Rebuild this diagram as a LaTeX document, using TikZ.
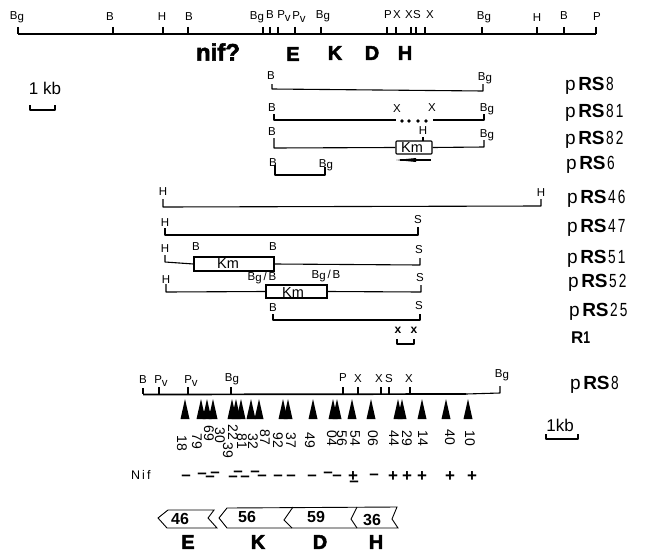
\documentclass[tikz,border=0pt]{standalone}
\usepackage{fontspec}
\setmainfont{Liberation Sans}
\newfontfamily\heavyf[BoldFeatures={FakeBold=2.5}]{Liberation Sans}
\newcommand{\lbfont}{\fontsize{11.5}{11.5}\selectfont}
\newcommand{\Pvlab}{P\raisebox{-2.5pt}{v}}
\newcommand{\Bglab}{B\raisebox{-1pt}{g}}
\newcommand{\nar}[1]{\scalebox{0.72}[1]{#1}}
\newcommand{\prs}[1]{p\hspace{2.5pt}{\bfseries RS}\hspace{1.5pt}\nar{#1}}
\tikzset{
  maplab/.style={inner sep=0pt,font=\lbfont},
  maplabel/.style={inner sep=0pt,anchor=west,font=\fontsize{19}{19}\selectfont},
  heavyl/.style={inner sep=0pt,font=\heavyf\bfseries\fontsize{20}{20}\selectfont},
  genline/.style={line width=1.1pt,line join=round},
  kmbox/.style={draw,line width=1.1pt,inner sep=0pt,rounded corners=0.8pt,minimum height=13pt},
  kmtext/.style={inner sep=0pt,font=\fontsize{14.5}{15}\selectfont},
  nums/.style={inner sep=0pt,rotate=-90,font=\fontsize{14}{14}\selectfont},
  nifm/.style={inner sep=0pt,font=\bfseries\fontsize{17}{17}\selectfont},
  nifp/.style={inner sep=0pt,font=\bfseries\fontsize{17}{17}\selectfont},
  orf/.style={line width=0.9pt,line join=miter},
  orfnum/.style={inner sep=0pt,font=\bfseries\fontsize{16}{16}\selectfont},
}
\begin{document}
\begin{tikzpicture}[x=1pt,y=-1pt]
\useasboundingbox (0,0) rectangle (660,551);
% top map
\draw[genline] (18,34) -- (596,34);
\foreach \x in {113,163,188,263,270,278,295,321,387,396,411,416,425,482,537,564}
  \draw[genline] (\x,27) -- (\x,34);
\draw[genline] (18,27) -- (18,34);
\draw[genline] (596,27) -- (596,34);
\node[maplab] (t1) at (17,17) {\Bglab};
\node[maplab] (t2) at (110,17) {B};
\node[maplab] (t3) at (162,17) {H};
\node[maplab] (t4) at (189,17) {B};
\node[maplab] (t5) at (257,17) {\Bglab};
\node[maplab] (t6) at (270,15) {B};
\node[maplab] (t7) at (284,16) {\Pvlab};
\node[maplab] (t8) at (299,17) {\Pvlab};
\node[maplab] (t9) at (323,16) {\Bglab};
\node[maplab] (t10) at (388,15) {P};
\node[maplab] (t11) at (397,15) {X};
\node[maplab] (t12) at (409,15) {X};
\node[maplab] (t13) at (417,15) {S};
\node[maplab] (t14) at (430,15) {X};
\node[maplab] (t15) at (484,17) {\Bglab};
\node[maplab] (t16) at (537,18) {H};
\node[maplab] (t17) at (564,16) {B};
\node[maplab] (t18) at (597,17) {P};
\node[heavyl,font=\heavyf\bfseries\fontsize{24}{24}\selectfont] (g0) at (218,52) {nif?};
\node[heavyl] (g1) at (293,54) {E};
\node[heavyl] (g2) at (335,53) {K};
\node[heavyl] (g3) at (372,53) {D};
\node[heavyl] (g4) at (405,53) {H};
% scale top
\node[inner sep=0pt,font=\fontsize{17}{17}\selectfont] (kb1) at (45,88) {1 kb};
\draw[genline] (30,105) -- (30,110) -- (55,110) -- (55,105);
% pRS8
\draw[genline] (272,84) -- (272,89) -- (483,91) -- (483,84);
\node[maplab] (a1) at (271,76) {B};
\node[maplab] (a2) at (485,78) {\Bglab};
\node[maplabel] (p1) at (565,86) {\prs{8}};
% pRS81
\draw[genline] (274,114) -- (274,120) -- (396,120);
\draw[genline] (433,120) -- (484,120) -- (484,114);
\foreach \x in {402,409,418,426} \fill (\x,121) circle (1.8);
\node[maplab] (b1) at (272,108) {B};
\node[maplab] (b2) at (397,109) {X};
\node[maplab] (b3) at (432,108) {X};
\node[maplab] (b4) at (487,109) {\Bglab};
\node[maplabel] (p2) at (565,113) {\prs{8\hspace{3pt}1}};
% pRS82
\node[kmbox,minimum width=36pt] (km1) at (414,147.5) {};
\node[kmtext] at (412,148) {Km};
\coordinate (c1) at (274,138);
\draw[genline] (c1) -- (274,148) -- (km1.west);
\draw[genline] (km1.east) -- (484,147) -- (484,140);
\draw[genline] (423,137) -- (423,141);
\node[maplab] (c2) at (272,132) {B};
\node[maplab] (c3) at (423,131) {H};
\node[maplab] (c4) at (487,135) {\Bglab};
\draw[genline] (431,160) -- (400,160);
\fill (396,160) -- (416,158) -- (416,162) -- cycle;
\node[maplabel] (p3) at (565,140) {\prs{8\hspace{3pt}2}};
% pRS6
\draw[genline] (275,165) -- (275,175) -- (325,175) -- (325,167);
\node[maplab] (d1) at (273,163) {B};
\node[maplab] (d2) at (326,165) {\Bglab};
\node[maplabel] (p4) at (566,165) {\prs{6}};
% pRS46
\draw[genline] (163,199) -- (163,207) -- (541,206) -- (541,199);
\node[maplab] (e1) at (163,192) {H};
\node[maplab] (e2) at (541,193) {H};
\node[maplabel] (p5) at (567,199) {\prs{4\hspace{3pt}6}};
% pRS47
\draw[genline] (165,228) -- (165,235) -- (418,235) -- (418,227);
\node[maplab] (f1) at (165,223) {H};
\node[maplab] (f2) at (418,220) {S};
\node[maplabel] (p6) at (567,228) {\prs{4\hspace{3pt}7}};
% pRS51
\node[kmbox,minimum width=80pt,minimum height=14pt,rounded corners=0pt] (km2) at (234,264) {};
\node[kmtext] at (228,264) {Km};
\draw[genline] (165,255) -- (165,262) -- (km2.west);
\draw[genline] (km2.east) -- (420,265) -- (420,258);
\node[maplab] (h1) at (165,249) {H};
\node[maplab] (h2) at (196,247) {B};
\node[maplab] (h3) at (273,247) {B};
\node[maplab] (h4) at (419,250) {S};
\node[maplabel] (p7) at (567,259) {\prs{5\hspace{3pt}1}};
% pRS52
\node[kmbox,minimum width=61pt,rounded corners=0pt] (km3) at (296.5,291.5) {};
\node[kmtext] at (293,293) {Km};
\draw[genline] (166,284) -- (166,292) -- (km3.west);
\draw[genline] (km3.east) -- (421,292) -- (421,285);
\node[maplab] (i1) at (166,280) {H};
\node[maplab] (i2) at (262,278) {\Bglab\,/\,B};
\node[maplab] (i3) at (326,276) {\Bglab\,/\,B};
\node[maplab] (i4) at (420,278) {S};
\node[maplabel] (p8) at (568,283) {\prs{5\hspace{3pt}2}};
% pRS25
\draw[genline] (273,314) -- (273,320) -- (420,320) -- (420,314);
\node[maplab] (j1) at (273,308) {B};
\node[maplab] (j2) at (419,306) {S};
\node[maplabel] (p9) at (569,312) {\prs{2\hspace{3pt}5}};
% R1
\draw[genline] (397,339) -- (397,344) -- (414,344) -- (414,339);
\node[maplab,font=\bfseries\fontsize{12}{12}\selectfont] (k1) at (398,330) {x};
\node[maplab,font=\bfseries\fontsize{12}{12}\selectfont] (k2) at (414,330) {x};
\node[inner sep=0pt,anchor=west,font=\bfseries\fontsize{17}{17}\selectfont] (p10) at (571,338) {R\nar{1}};
% lower map
\draw[line width=1.7pt] (143,394.5) -- (466,394);
\draw[genline] (466,394) -- (500,393) -- (500,386);
\draw[genline] (143,388) -- (143,394);
\foreach \x in {159,188,231,343,358,381,389,410} \draw[genline] (\x,387) -- (\x,394);
\node[maplab] (l1) at (143,380) {B};
\node[maplab] (l2) at (161,381) {\Pvlab};
\node[maplab] (l3) at (191,381) {\Pvlab};
\node[maplab] (l4) at (232,379) {\Bglab};
\node[maplab] (l5) at (343,378) {P};
\node[maplab] (l6) at (358,379) {X};
\node[maplab] (l7) at (379,379) {X};
\node[maplab] (l8) at (389,379) {S};
\node[maplab] (l9) at (409,379) {X};
\node[maplab] (l10) at (502,375) {\Bglab};
\node[maplabel] (p11) at (570,385) {\prs{8}};
\node[inner sep=0pt,font=\fontsize{17}{17}\selectfont] (kb2) at (560,425) {1kb};
\draw[genline] (546,434) -- (546,439) -- (578,439) -- (578,434);
% insertion triangles
\foreach \x in {185,201,207,213,232,236,241,251,259,283,288,313,333,337,352,371,398,402,422,446,468}
  \fill ({\x},399) -- ({\x+4.5},419) -- ({\x-4.5},419) -- cycle;
% insertion numbers
\foreach \x/\y/\t [count=\i] in {182/443/18,197/441/79,209/433/69,220/435/30,233/432/22,228/450/39,242/441/81,253/441/32,265/437/87,278/440/92,291/440/37,310/440/49,332/438/04,342/438/56,355/438/54,373/438/06,394/438/44,407/438/29,423/438/14,450/437/40,470/438/10}
  \node[nums] (n\i) at (\x,\y) {\t};
% Nif
\node[inner sep=0pt,anchor=west,font=\fontsize{12.5}{12.5}\selectfont] (nif) at (131,475) {N\hspace{2pt}i\hspace{2pt}f};
\foreach \x/\y [count=\i] in {186/478,202/476,215/475,210/479,233/479,238/474,245/479,255/474,262/478,278/478,291/478,312/478,328/475,337/478,354/484,374/477}
  \node[nifm] (m\i) at (\x,\y) {–};
\foreach \x [count=\i] in {353,393,407,422,450,472}
  \node[nifp] (q\i) at (\x,477) {+};
% ORFs
\draw[orf] (168,510) -- (158,518) -- (167,528) -- (217,528) -- (208,518) -- (214,510) -- cycle;
\draw[orf] (227,508) -- (219,518) -- (227,528) -- (398,528) -- (392,519) -- (397,507) -- cycle;
\draw[orf] (293,507) -- (284,520) -- (292,528);
\draw[orf] (357,507) -- (351,519) -- (357,528);
\node[orfnum] (o1) at (180,519) {46};
\node[orfnum] (o2) at (247,517) {56};
\node[orfnum] (o3) at (316,517) {59};
\node[orfnum] (o4) at (372,520) {36};
\node[heavyl] (u1) at (188,542) {E};
\node[heavyl] (u2) at (258,542) {K};
\node[heavyl] (u3) at (320,542) {D};
\node[heavyl] (u4) at (376,542) {H};
\end{tikzpicture}
\end{document}
